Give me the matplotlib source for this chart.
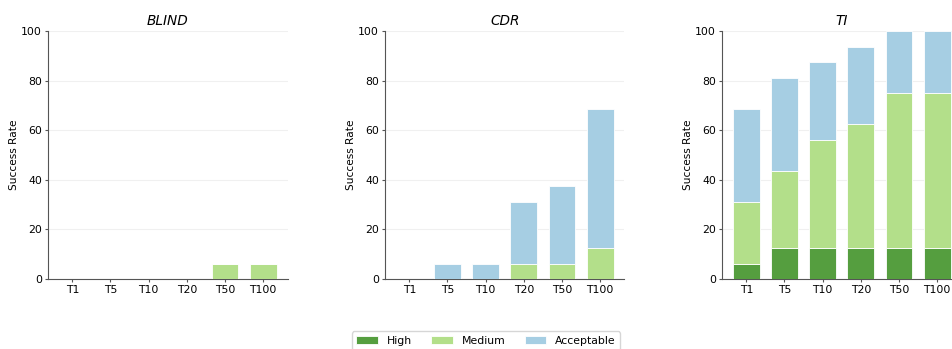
import matplotlib.pyplot as plt
import numpy as np

tops = ['T1', 'T5', 'T10', 'T20', 'T50', 'T100']
panels = ['BLIND', 'CDR', 'TI']

# success rates (%) per panel, stacked: high, medium, acceptable
high = {
    'BLIND': [0, 0, 0, 0, 0, 0],
    'CDR': [0, 0, 0, 0, 0, 0],
    'TI': [6.25, 12.5, 12.5, 12.5, 12.5, 12.5],
}
medium = {
    'BLIND': [0, 0, 0, 0, 6.25, 6.25],
    'CDR': [0, 0, 0, 6.25, 6.25, 12.5],
    'TI': [25, 31.25, 43.75, 50, 62.5, 62.5],
}
acceptable = {
    'BLIND': [0, 0, 0, 0, 0, 0],
    'CDR': [0, 6.25, 6.25, 25, 31.25, 56.25],
    'TI': [37.5, 37.5, 31.25, 31.25, 25, 25],
}

colors = {'High': '#559e3f', 'Medium': '#b3df8a', 'Acceptable': '#a6cee3'}

fig = plt.figure(figsize=(9.53, 3.49), dpi=100)
W, H = 953, 349
lefts = [48, 385, 722]
x = np.arange(len(tops))
fs = 7.8

for i, name in enumerate(panels):
    ax = fig.add_axes([lefts[i] / W, (H - 279) / H, 239.5 / W, 248 / H])
    h = np.array(high[name])
    m = np.array(medium[name])
    a = np.array(acceptable[name])
    ax.bar(x, h, 0.7, color=colors['High'], edgecolor='white', linewidth=0.6, label='High', zorder=3)
    ax.bar(x, m, 0.7, bottom=h, color=colors['Medium'], edgecolor='white', linewidth=0.6, label='Medium', zorder=3)
    ax.bar(x, a, 0.7, bottom=h + m, color=colors['Acceptable'], edgecolor='white', linewidth=0.6, label='Acceptable', zorder=3)
    ax.set_ylim(0, 100)
    ax.set_xticks(x)
    ax.set_xticklabels(tops, fontsize=fs)
    ax.tick_params(axis='y', labelsize=fs)
    ax.tick_params(length=2.5, width=0.8, pad=1.8, color='#555555')
    ax.set_ylabel('Success Rate', fontsize=7.6, labelpad=1.5)
    ax.set_title(name, fontstyle='italic', fontsize=9.8, pad=4.5)
    ax.yaxis.grid(True, color='#f0f0f0', linewidth=0.8, zorder=0)
    ax.set_axisbelow(True)
    for s in ['top', 'right']:
        ax.spines[s].set_visible(False)
    for s in ['left', 'bottom']:
        ax.spines[s].set_color('#555555')
    if i == 0:
        handles, labels = ax.get_legend_handles_labels()

fig.legend(handles, labels, loc='upper center', bbox_to_anchor=(0.51, 0.066),
           ncol=3, fontsize=fs, frameon=True, handlelength=2.0, columnspacing=1.8)

fig.savefig('out.png', dpi=100)
